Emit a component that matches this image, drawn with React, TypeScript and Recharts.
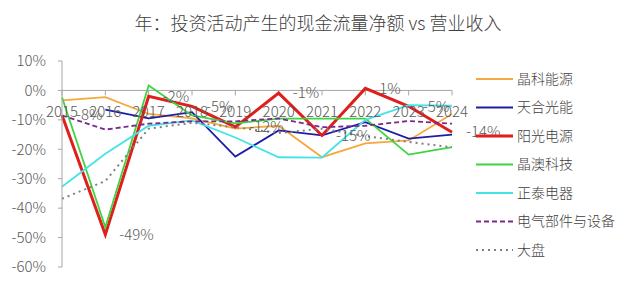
import React from 'react';
import { LineChart, Line, XAxis, YAxis, ReferenceLine, LabelList } from 'recharts';

const years = ['2015', '2016', '2017', '2018', '2019', '2020', '2021', '2022', '2023', '2024'];
const jinko = [-3.4, -2.3, -8, -9.5, -13, -12, -22.7, -18, -17, -8];
const trina = [null, -6.5, -9.5, -7.4, -22.5, -13.6, -15.3, -10.8, -16.4, -15];
const sungrow = [-8.4, -49, -2, -5.4, -12.4, -0.9, -15.3, 0.7, -5.4, -14.2];
const jaSolar = [-2.3, -46.5, 1.7, -8.5, -11.2, -9.6, -9.6, -9.6, -21.8, -19.3];
const chint = [-32.7, -21.5, -12, -10.2, -16, -22.7, -22.8, -10, -5, -5.2];
const industry = [-8.5, -13.3, -11.3, -10.5, -10.5, -9.5, -12.5, -12, -10.4, -11.3];
const market = [-36.8, -30.8, -13, -11, -12.5, -14.5, -13, -15.5, -17.5, -19.3];
const yTicks = [10, 0, -10, -20, -30, -40, -50, -60];
const boundaries = [0, 1, 2, 3, 4, 5, 6, 7, 8, 9, 10];
const title = '年：投资活动产生的现金流量净额 vs 营业收入';

const series = [
  { key: 'jinko', name: '晶科能源', values: jinko, color: '#F5A93A', width: 1.8, dash: undefined as string | undefined },
  { key: 'trina', name: '天合光能', values: trina, color: '#1C1CA8', width: 1.8, dash: undefined },
  { key: 'sungrow', name: '阳光电源', values: sungrow, color: '#DE1F1B', width: 3, dash: undefined },
  { key: 'jaSolar', name: '晶澳科技', values: jaSolar, color: '#3FD43F', width: 1.8, dash: undefined },
  { key: 'chint', name: '正泰电器', values: chint, color: '#45E3E8', width: 1.8, dash: undefined },
  { key: 'industry', name: '电气部件与设备', values: industry, color: '#7A2A8C', width: 1.8, dash: '5 3' },
  { key: 'market', name: '大盘', values: market, color: '#808080', width: 2, dash: '2 4' },
];

const data = years.map((y, i) => {
  const row: Record<string, any> = { year: y, zero: 0 };
  series.forEach((s) => {
    row[s.key] = s.values[i];
  });
  return row;
});

const FONT = '"Noto Sans CJK SC", "Noto Sans", sans-serif';
const AXIS = '#A6A6A6';
const TEXT = '#595959';
const W = 300;

export default function App() {
  return (
    <div style={{ position: 'absolute', left: 0, top: 0, width: 640, height: 284, background: '#fff', fontFamily: FONT }}>
      <div
        style={{
          position: 'absolute',
          left: -2,
          top: 9,
          width: 640,
          textAlign: 'center',
          fontSize: 18,
          fontWeight: W,
          color: '#404040',
          lineHeight: '26px',
        }}
      >
        {title}
      </div>
      <LineChart width={640} height={284} data={data} margin={{ top: 61, right: 188, bottom: 17, left: 0 }}>
        <XAxis dataKey="year" hide />
        <XAxis xAxisId="grid" type="number" domain={[0, 10]} hide />
        <YAxis
          domain={[-60, 10]}
          ticks={yTicks}
          width={62}
          tickSize={4}
          tickMargin={12}
          stroke={AXIS}
          tick={{ fill: TEXT, fontSize: 15, fontFamily: FONT, fontWeight: W }}
          tickFormatter={(v: number) => `${v}%`}
          interval={0}
        />
        <ReferenceLine y={0} stroke={AXIS} strokeWidth={1} />
        {boundaries.map((b) => (
          <ReferenceLine
            key={b}
            xAxisId="grid"
            segment={[
              { x: b, y: 0 },
              { x: b, y: -1.7 },
            ]}
            stroke={AXIS}
          />
        ))}
        <Line dataKey="zero" stroke="none" dot={false} activeDot={false} isAnimationActive={false} legendType="none">
          <LabelList
            dataKey="year"
            content={(p: any) => (
              <text x={p.x} y={p.y + 21} dy="0.35em" textAnchor="middle" fontSize={15} fontWeight={W} fill={TEXT} fontFamily={FONT}>
                {p.value}
              </text>
            )}
          />
        </Line>
        {series.map((s) => (
          <Line
            key={s.key}
            dataKey={s.key}
            name={s.name}
            stroke={s.color}
            strokeWidth={s.width}
            strokeDasharray={s.dash}
            dot={false}
            activeDot={false}
            isAnimationActive={false}
            strokeLinejoin="miter"
          >
            {s.key === 'sungrow' ? (
              <LabelList
                dataKey="sungrow"
                content={(p: any) => (
                  <text x={p.x + 14} y={p.y} dy="0.35em" textAnchor="start" fontSize={15} fontWeight={W} fill={TEXT} fontFamily={FONT}>
                    {`${Math.round(Number(p.value))}%`}
                  </text>
                )}
              />
            ) : null}
          </Line>
        ))}
      </LineChart>
      <svg width={640} height={284} style={{ position: 'absolute', left: 0, top: 0, pointerEvents: 'none' }}>
        {series.map((s, i) => {
          const cy = 79 + i * 28.5;
          return (
            <g key={s.key}>
              <line x1={476} x2={513} y1={cy} y2={cy} stroke={s.color} strokeWidth={s.key === 'sungrow' ? 3 : 2} strokeDasharray={s.dash} />
              <text x={517} y={cy} dy="0.35em" fontSize={14} fontWeight={W} fill="#404040" fontFamily={FONT}>
                {s.name}
              </text>
            </g>
          );
        })}
      </svg>
    </div>
  );
}
